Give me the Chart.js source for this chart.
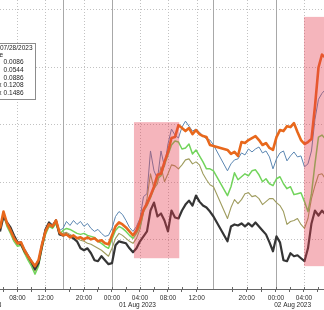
<!DOCTYPE html>
<html><head><meta charset="utf-8">
<script src="https://cdn.jsdelivr.net/npm/chart.js@4.4.0/dist/chart.umd.min.js"></script>
<style>html,body{margin:0;padding:0;background:#fff;overflow:hidden}canvas{display:block}</style>
</head><body>
<canvas id="c" width="324" height="310"></canvas>
<script>
// trading-time axis (hours, session gaps collapsed)
const times = [0,0.5,1,1.5,2,2.5,3,3.5,4,4.5,5,5.5,6,6.5,7,7.5,8,8.5,9,9.5,10,10.5,11,11.5,12,12.5,13,13.5,14,14.5,15,15.5,16,16.5,17,17.5,18,18.5,19,19.5,20,20.5,21,21.5,22,22.5,23,23.5,24,24.5,25,25.5,26,26.5,27,27.5,28,28.5,29,29.5,30,30.5,
  32.5,33,33.5,34,34.5,35,35.5,36,36.5,37,37.5,38,38.5,39,39.5,40,40.5,41,41.5,42,42.5,43,43.5,44,44.5,45,45.5,46,46.5];

const seriesOrange = [7.0,8.7,7.5,6.8,6.0,5.5,5.6,4.8,4.2,3.7,3.2,3.8,5.4,6.7,7.4,7.2,7.8,6.6,6.3,
  6.4,6.1,6.3,6.0,6.1,5.9,6.1,5.9,6.0,5.7,5.8,5.5,5.4,6.3,7.2,7.6,7.4,7.1,6.7,
  6.3,6.8,7.7,8.9,9.5,10.3,11.2,12.4,12.5,13.7,14.7,16.1,16.2,17.4,17.1,16.8,17.1,16.5,16.9,16.5,16.3,16.2,15.4,15.3,
  14.9,14.5,14.7,14.3,15.7,15.6,15.9,16.1,16.3,15.9,15.4,15.6,15.1,14.9,16.2,16.9,16.8,17.3,17.2,17.6,16.7,15.9,15.5,15.7,16.0,19.3,23.2,24.5,24.2];

const seriesBlue = [7.1,8.6,7.6,7.0,6.2,5.6,5.7,5.0,4.4,3.8,3.3,3.9,5.6,7.0,7.6,7.4,7.9,6.8,7.0,
  7.7,7.3,7.8,7.4,7.7,7.2,7.5,7.0,6.7,6.9,6.5,6.2,6.3,7.0,8.2,8.7,8.4,7.8,7.1,
  6.7,7.2,8.0,10.2,10.5,14.8,12.8,12.0,14.8,13.2,15.5,17.0,16.4,16.1,17.2,17.8,17.3,16.8,17.0,16.7,16.3,16.0,15.9,15.4,
  12.8,13.5,13.9,14.0,14.6,14.4,15.0,14.7,15.0,15.2,14.6,14.8,14.2,13.0,14.0,14.6,14.8,13.8,14.3,14.7,14.2,14.3,13.2,13.5,14.8,18.0,20.0,20.6,21.0];

const seriesGreen = [6.8,8.4,7.2,6.5,5.7,5.2,5.3,4.5,3.8,3.2,2.4,3.2,5.0,6.4,7.2,7.0,7.5,6.4,6.8,
  7.0,6.9,6.7,6.5,6.4,6.5,6.3,6.2,6.1,5.7,5.5,5.2,5.0,5.9,6.8,7.2,7.0,6.7,6.3,
  6.0,6.5,7.2,8.7,9.3,10.1,11.0,12.0,12.3,13.4,14.4,15.4,15.8,15.7,15.0,15.1,15.5,14.5,14.9,14.3,13.7,13.0,13.0,12.8,
  10.3,11.2,12.6,11.9,12.2,12.5,12.3,12.8,12.9,12.4,11.7,12.0,11.5,11.3,12.0,12.2,11.5,11.0,11.2,10.4,10.5,10.6,9.7,8.7,10.5,13.5,16.2,16.4,16.0];

const seriesOlive = [6.9,8.5,7.3,6.7,5.9,5.4,5.4,4.6,4.0,3.4,2.7,3.4,5.2,6.5,7.3,7.1,7.6,6.5,6.5,
  6.6,6.4,6.2,6.0,5.8,5.7,5.5,5.4,5.2,5.0,4.8,4.5,4.2,5.0,6.0,6.5,6.3,6.0,5.7,
  5.5,6.0,6.9,8.6,10.0,12.5,11.0,11.5,13.2,11.7,12.5,13.4,13.3,13.0,13.4,13.9,14.0,13.5,13.7,13.4,12.5,11.9,11.4,11.2,
  8.0,9.1,9.9,9.5,9.9,10.5,10.6,10.2,10.3,10.0,9.4,9.7,10.0,10.0,9.6,9.3,8.7,7.4,7.7,7.8,8.0,7.4,7.0,8.0,10.0,11.3,12.4,12.5,12.0];

const seriesBlack = [6.7,8.2,7.6,7.1,6.3,5.6,5.4,4.7,4.2,3.6,2.9,3.5,5.2,6.9,7.6,7.2,7.8,6.4,
  6.3,6.4,6.2,6.0,5.7,5.0,4.8,5.0,4.5,3.8,3.7,4.2,3.8,3.4,3.5,5.3,5.7,5.6,5.5,5.0,
  4.6,5.0,5.7,6.2,6.7,8.8,9.6,8.2,8.5,7.8,6.7,8.8,8.1,8.0,8.8,9.4,9.8,9.3,10.3,9.7,9.3,9.1,8.7,8.2,
  5.7,7.2,7.4,7.3,7.5,7.2,7.5,7.2,7.6,7.2,6.8,6.4,5.6,4.7,6.2,5.6,3.8,3.7,4.5,4.2,4.3,4.0,3.7,5.0,7.5,8.8,8.3,8.8,8.4];

// axis ticks
const tickTimes = [2.5,6.5,12,16,20,24,28.1,35.24,39.43,43.43];
const tickLabels = ['08:00','12:00','20:00','00:00','04:00','08:00','12:00','20:00','00:00','04:00'];
const minorTickTimes = [0.5,4.5,10,14,18,22,26,33.2,37.33,41.43,45.43];
const sessionBreakTimes = [8.95,30.4];
const gridValues = [5.9,11.7,17.5,23.3,29.1];
const dateLabels = ['31 Jul 2023','01 Aug 2023','02 Aug 2023'];
const dateLabelTimes = [-2.2,19.64,41.8];

// shaded event windows
const shadeStart = [19.14,43.43];
const shadeEnd = [25.61,47];
const shadeTop = [17.7,28.3];
const shadeBottom = [4.0,3.2];

// legend box (cropped)
const legendDate = '07/28/2023';
const legendHeader = 'Value';
const legendLabels = ['','','','Max','Max'];
const legendValues = ['0.0086','0.0544','0.0886','0.1208','0.1486'];

const FONT = '6.5px "Liberation Sans", Arial, sans-serif';
const mk = arr => times.map((t,i)=>({x:t,y:arr[i]}));

const overlay = {
  id:'overlay',
  beforeDatasetsDraw(chart){
    const {ctx, chartArea:a, scales:{x,y}} = chart;
    ctx.save();
    ctx.lineWidth = 1;
    ctx.strokeStyle = '#c2c2c2';
    ctx.setLineDash([1,2]);
    gridValues.forEach(v=>{
      const py = Math.round(y.getPixelForValue(v))+0.5;
      ctx.beginPath(); ctx.moveTo(a.left,py); ctx.lineTo(a.right,py); ctx.stroke();
    });
    tickTimes.forEach((t,i)=>{
      if (tickLabels[i]==='00:00') return;
      const px = Math.round(x.getPixelForValue(t))+0.5;
      ctx.beginPath(); ctx.moveTo(px,a.top); ctx.lineTo(px,a.bottom); ctx.stroke();
    });
    ctx.setLineDash([]);
    ctx.strokeStyle = '#a8a8a8';
    const solids = sessionBreakTimes.concat(tickTimes.filter((t,i)=>tickLabels[i]==='00:00'));
    solids.forEach(t=>{
      const px = Math.round(x.getPixelForValue(t))+0.5;
      ctx.beginPath(); ctx.moveTo(px,a.top); ctx.lineTo(px,a.bottom); ctx.stroke();
    });
    ctx.restore();
  },
  afterDatasetsDraw(chart){
    const {ctx, chartArea:a, scales:{x,y}} = chart;
    ctx.save();
    ctx.beginPath(); ctx.rect(a.left,a.top,a.right-a.left,a.bottom-a.top); ctx.clip();
    ctx.fillStyle = 'rgba(230,60,80,0.38)';
    shadeStart.forEach((s,i)=>{
      const x0 = x.getPixelForValue(s), x1 = x.getPixelForValue(shadeEnd[i]);
      const y0 = y.getPixelForValue(shadeTop[i]), y1 = y.getPixelForValue(shadeBottom[i]);
      ctx.fillRect(x0,y0,x1-x0,y1-y0);
    });
    ctx.restore();
  },
  afterDraw(chart){
    const {ctx, chartArea:a, scales:{x}} = chart;
    ctx.save();
    // tick marks crossing the axis
    ctx.strokeStyle = '#666'; ctx.lineWidth = 1;
    tickTimes.concat(minorTickTimes).forEach(t=>{
      const px = Math.round(x.getPixelForValue(t))+0.5;
      ctx.beginPath(); ctx.moveTo(px,a.bottom-2); ctx.lineTo(px,a.bottom); ctx.stroke();
    });
    ctx.font = FONT;
    ctx.fillStyle = '#2a2a2a';
    ctx.textAlign = 'center';
    ctx.textBaseline = 'middle';
    dateLabels.forEach((d,i)=>ctx.fillText(d, x.getPixelForValue(dateLabelTimes[i]), 305.5));
    // legend box
    ctx.fillStyle = '#fff';
    ctx.fillRect(-40,43.5,75.5,56);
    ctx.strokeStyle = '#8c8c8c';
    ctx.lineWidth = 1;
    ctx.strokeRect(-40.5,43.5,76,56);
    ctx.fillStyle = '#222';
    ctx.textAlign = 'right';
    ctx.fillText(legendDate, 32.5, 48);
    ctx.fillText(legendHeader, 3, 55.3);
    legendValues.forEach((v,i)=>{
      const yy = 62.5 + i*7.7;
      ctx.fillText(v, 23.5, yy);
      if (legendLabels[i]) ctx.fillText(legendLabels[i], 1.5, yy);
    });
    ctx.restore();
  }
};

const ds = (label, arr, color, w) => ({label, data: mk(arr), borderColor: color, borderWidth: w,
  pointRadius: 0, tension: 0, fill: false, borderJoinStyle: 'round'});

new Chart(document.getElementById('c'), {
  type: 'line',
  data: { datasets: [
    ds('Orange', seriesOrange, '#e8681c', 2.6),
    ds('Black', seriesBlack, '#353535', 2.2),
    ds('Green', seriesGreen, '#72d45c', 1.5),
    ds('Olive', seriesOlive, '#9f9c5e', 1.1),
    ds('Blue', seriesBlue, '#5b86b1', 1.0)
  ]},
  options: {
    responsive: false, animation: false, devicePixelRatio: 1,
    layout: { padding: { left: 0, right: 0, top: 0, bottom: 6.2 } },
    plugins: { legend: { display: false }, tooltip: { enabled: false } },
    scales: {
      x: {
        type: 'linear', min: 0, max: 46.29,
        afterBuildTicks: s => {
          s.ticks = tickTimes.concat(minorTickTimes).sort((a,b)=>a-b).map(v=>({value:v}));
        },
        ticks: {
          autoSkip: false, maxRotation: 0, padding: 2, color: '#2a2a2a',
          font: { family: '"Liberation Sans", Arial, sans-serif', size: 6.5 },
          callback: v => { const i = tickTimes.indexOf(v); return i >= 0 ? tickLabels[i] : ''; }
        },
        grid: { display: true, drawOnChartArea: false, drawTicks: true, tickLength: 3, color: '#666' },
        border: { display: true, color: '#666', width: 1 }
      },
      y: { display: false, min: 0.9, max: 30.0 }
    }
  },
  plugins: [overlay]
});
</script>
</body></html>
